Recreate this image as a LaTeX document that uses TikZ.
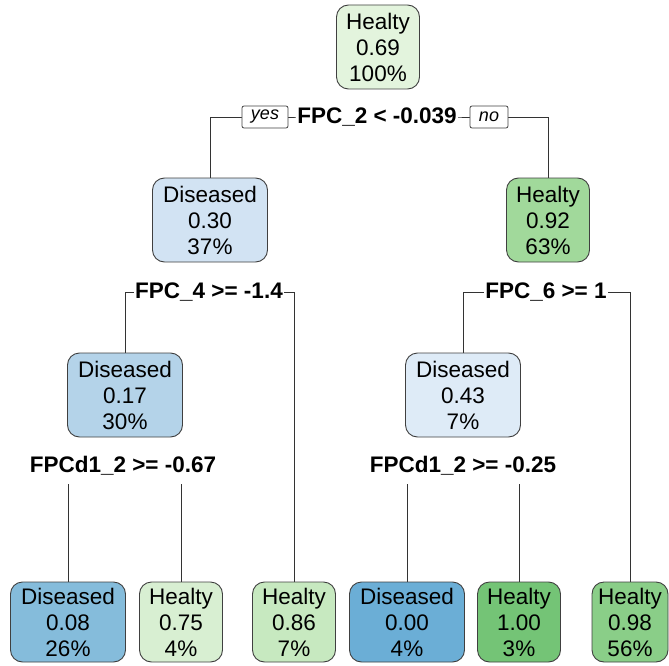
\documentclass[tikz,border=0pt]{standalone}
\usepackage{fontspec}
\setmainfont{Liberation Sans}
\pgfdeclarelayer{bg}
\pgfsetlayers{bg,main}
\definecolor{cRoot}{HTML}{E3F4DD}
\definecolor{cD30}{HTML}{D2E3F3}
\definecolor{cH92}{HTML}{A1D99B}
\definecolor{cD17}{HTML}{B4D3E9}
\definecolor{cD43}{HTML}{DEEBF7}
\definecolor{cD08}{HTML}{85BCDB}
\definecolor{cH75}{HTML}{D8EFD2}
\definecolor{cH86}{HTML}{C7E9C0}
\definecolor{cD00}{HTML}{6BAED6}
\definecolor{cH100}{HTML}{74C476}
\definecolor{cH98}{HTML}{8ACE88}
\begin{document}
\begin{tikzpicture}[x=1pt,y=-1pt,
  tbox/.style={draw=black!75, line width=0.9pt, rounded corners=12pt, align=center,
    font=\fontsize{22.5}{26}\selectfont, inner sep=0pt, minimum height=84pt},
  hbox/.style={tbox, minimum width=83pt},
  dbox/.style={tbox, minimum width=115pt},
  leafbox/.style={minimum height=80pt},
  splitlbl/.style={fill=white, font=\fontsize{22.5}{26}\bfseries\selectfont,
    inner xsep=1pt, inner ysep=0pt, minimum height=36pt},
  yn/.style={draw=black!75, fill=white, line width=0.8pt, font=\fontsize{18}{20}\itshape\selectfont,
    rounded corners=2pt, minimum height=22pt, inner xsep=9pt, inner ysep=0pt},
  conn/.style={draw=black!80, line width=0.9pt}
]
\useasboundingbox (0,0) rectangle (669,666);

% nodes
\node[hbox, fill=cRoot] (root) at (378,47) {Healty\\0.69\\100\%};
\node[dbox, fill=cD30] (n2) at (210,220) {Diseased\\0.30\\37\%};
\node[hbox, fill=cH92] (n3) at (548,220) {Healty\\0.92\\63\%};
\node[dbox, fill=cD17] (n4) at (125,395) {Diseased\\0.17\\30\%};
\node[dbox, fill=cD43] (n5) at (463,395) {Diseased\\0.43\\7\%};

\node[dbox, leafbox, fill=cD08] (l1) at (68,622) {Diseased\\0.08\\26\%};
\node[hbox, leafbox, fill=cH75] (l2) at (181,622) {Healty\\0.75\\4\%};
\node[hbox, leafbox, fill=cH86] (l3) at (294,622) {Healty\\0.86\\7\%};
\node[dbox, leafbox, fill=cD00] (l4) at (407,622) {Diseased\\0.00\\4\%};
\node[hbox, leafbox, fill=cH100] (l5) at (519,622) {Healty\\1.00\\3\%};
\node[hbox, leafbox, fill=cH98, minimum width=76pt] (l6) at (630,622) {Healty\\0.98\\56\%};

% split labels
\node[splitlbl] (s1) at (377,117) {FPC\_2 < -0.039};
\node[yn] (yes) at (265,117) {yes};
\node[yn] (no) at (489,117) {no};
\node[splitlbl] (s2) at (209,292) {FPC\_4 >= -1.4};
\node[splitlbl] (s3) at (546,292) {FPC\_6 >= 1};
\node[splitlbl] (s4) at (123,466) {FPCd1\_2 >= -0.67};
\node[splitlbl] (s5) at (463,466) {FPCd1\_2 >= -0.25};

% connectors
\begin{pgfonlayer}{bg}
\draw[conn] (n2.north) |- (s1.center) -| (n3.north);
\draw[conn] (n4.north) |- (s2.center) -| (l3.north);
\draw[conn] (n5.north) |- (s3.center) -| (l6.north);
\draw[conn] (l1.north) |- (s4.center) -| (l2.north);
\draw[conn] (l4.north) |- (s5.center) -| (l5.north);
\end{pgfonlayer}
\end{tikzpicture}
\end{document}
